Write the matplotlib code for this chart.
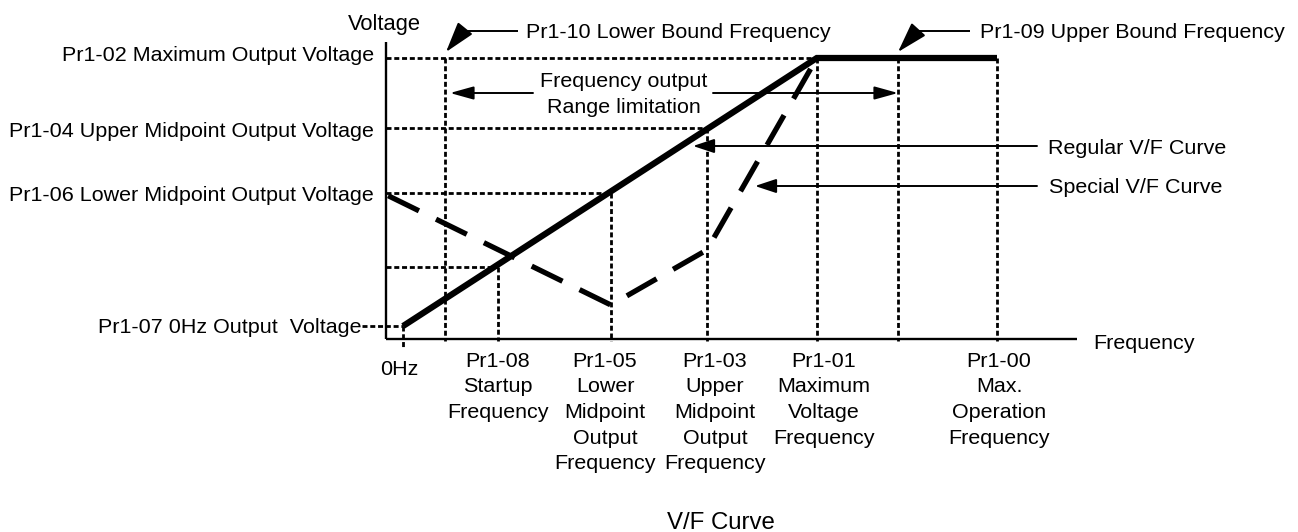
import matplotlib
matplotlib.use('Agg')
import matplotlib.pyplot as plt
import matplotlib.transforms as mtransforms

plt.rcParams['font.family'] = ['Liberation Sans', 'DejaVu Sans']

W, H, DPI = 1298, 532, 100

# ---------------- data (frequency in Hz, voltage in % of max output voltage) ----------
F_LOWER_BOUND = 4.2     # Pr1-10
F_STARTUP = 9.6         # Pr1-08
F_LOWER_MID = 21.0      # Pr1-05
F_UPPER_MID = 30.7      # Pr1-03
F_MAX_VOLT = 41.8       # Pr1-01
F_UPPER_BOUND = 50.0    # Pr1-09
F_MAX_OP = 60.0         # Pr1-00

V_ZERO_HZ = 4.6         # Pr1-07
V_STARTUP = 25.6
V_LOWER_MID = 52.0      # Pr1-06
V_UPPER_MID = 75.1      # Pr1-04
V_MAX = 100.0           # Pr1-02

regular_f = [0.0, F_MAX_VOLT, F_MAX_OP]
regular_v = [V_ZERO_HZ, V_MAX, V_MAX]
special_f = [-1.5, F_LOWER_MID, F_UPPER_MID, F_MAX_VOLT]
special_v = [51.0, 12.1, 31.7, V_MAX]

F_AXIS_START, F_AXIS_END, V_AXIS_TOP = -1.7, 68.1, 105.7

# horizontal guides: (voltage, frequency where guide ends)
hguide_v = [V_MAX, V_UPPER_MID, V_LOWER_MID, V_STARTUP]
hguide_f = [F_MAX_VOLT, F_UPPER_MID, F_LOWER_MID, F_STARTUP]
# vertical guides: (frequency, top voltage)
vguide_f = [F_LOWER_BOUND, F_STARTUP, F_LOWER_MID, F_UPPER_MID, F_MAX_VOLT, F_UPPER_BOUND, F_MAX_OP]
vguide_v = [V_MAX, V_STARTUP, V_LOWER_MID, V_UPPER_MID, V_MAX, V_MAX, V_MAX]

left_labels = ['Pr1-02 Maximum Output Voltage', 'Pr1-04 Upper Midpoint Output Voltage',
               'Pr1-06 Lower Midpoint Output Voltage']
zero_label = 'Pr1-07 0Hz Output  Voltage'
bottom_labels = [
    ['Pr1-08', 'Startup', 'Frequency'],
    ['Pr1-05', 'Lower', 'Midpoint', 'Output', 'Frequency'],
    ['Pr1-03', 'Upper', 'Midpoint', 'Output', 'Frequency'],
    ['Pr1-01', 'Maximum', 'Voltage', 'Frequency'],
    ['Pr1-00', 'Max.', 'Operation', 'Frequency'],
]

# ---------------- layout ----------------
X0, SX = 403.0, 9.9     # pixel x of 0 Hz, pixels per Hz
Y0, SY = 339.0, 2.81    # pixel y of 0 V, pixels per %

fig = plt.figure(figsize=(W / DPI, H / DPI), dpi=DPI)
ax = fig.add_axes([0, 0, 1, 1])
ax.set_xlim(-X0 / SX, (W - X0) / SX)
ax.set_ylim(-(H - Y0) / SY, Y0 / SY)
ax.axis('off')

PX = mtransforms.Affine2D().scale(1.0 / W, -1.0 / H).translate(0, 1) + fig.transFigure

FS = 15.45
K = 'black'
DOT = dict(color=K, lw=2.0, linestyle=(0, (1.8, 1.0)), dash_capstyle='butt')

# axes lines
ax.plot([F_AXIS_START, F_AXIS_START], [0, V_AXIS_TOP], color=K, lw=1.7, solid_capstyle='butt')
ax.plot([F_AXIS_START, F_AXIS_END], [0, 0], color=K, lw=1.7, solid_capstyle='butt')

# guides
for v, f in zip(hguide_v, hguide_f):
    ax.plot([F_AXIS_START, f], [v, v], **DOT)
for f, v in zip(vguide_f, vguide_v):
    ax.plot([f, f], [v, -0.6], **DOT)
ax.plot([0, 0], [V_ZERO_HZ, -3.2], **DOT)
ax.plot([(362 - X0) / SX, 0], [V_ZERO_HZ, V_ZERO_HZ], **DOT)

# curves
ax.plot(regular_f, regular_v, color=K, lw=4.5, solid_capstyle='butt', solid_joinstyle='miter')
ax.plot(special_f, special_v, color=K, lw=3.8, linestyle=(0, (6.5, 3.6)), dash_capstyle='butt')

# texts
def txt(x, y, s, **kw):
    kw.setdefault('fontsize', FS)
    kw.setdefault('va', 'baseline')
    ax.text(x, y, s, transform=PX, color=K, **kw)

txt(384, 30, 'Voltage', ha='center', fontsize=15.8)
txt(1093, 349, 'Frequency', ha='left')
for s, yb in zip(left_labels, [61, 137, 201]):
    txt(374, yb, s, ha='right')
txt(362, 333, zero_label, ha='right')
txt(399, 375, '0Hz', ha='center')
for lines, xc in zip(bottom_labels, [498, 605, 715, 824, 999]):
    for i, s in enumerate(lines):
        txt(xc, 367 + 25.5 * i, s, ha='center')
txt(721, 529, 'V/F Curve', ha='center', fontsize=17.3)

txt(526, 37.5, 'Pr1-10 Lower Bound Frequency', ha='left')
txt(980, 37.5, 'Pr1-09 Upper Bound Frequency', ha='left')
txt(623.5, 87, 'Frequency output', ha='center')
txt(623.5, 113, 'Range limitation', ha='center')
txt(1048, 154, 'Regular V/F Curve', ha='left')
txt(1049, 193, 'Special V/F Curve', ha='left')

# arrows (pixel layout)
def line(x1, y1, x2, y2):
    ax.plot([x1, x2], [y1, y2], transform=PX, color=K, lw=1.4, solid_capstyle='butt')

def arrow(x_from, y_from, x_to, y_to, hl, hw):
    ax.annotate('', xy=(x_to, y_to), xytext=(x_from, y_from), xycoords=PX, textcoords=PX,
                arrowprops=dict(arrowstyle=f'-|>,head_length={hl},head_width={hw}',
                                mutation_scale=1, color=K, lw=1.4,
                                shrinkA=0, shrinkB=0))

line(518, 31, 463, 31)
arrow(463, 31, 446, 52, 19.0, 5.8)
line(970, 31, 917, 31)
arrow(917, 31, 898, 52, 19.0, 5.8)
arrow(533, 93, 450, 93, 14.4, 4.0)
arrow(713, 93, 898, 93, 14.4, 4.0)
arrow(1037, 146, 693, 146, 13.0, 4.3)
arrow(1037, 186, 755, 186, 13.0, 4.3)

fig.savefig('out.png', dpi=DPI, facecolor='white')
